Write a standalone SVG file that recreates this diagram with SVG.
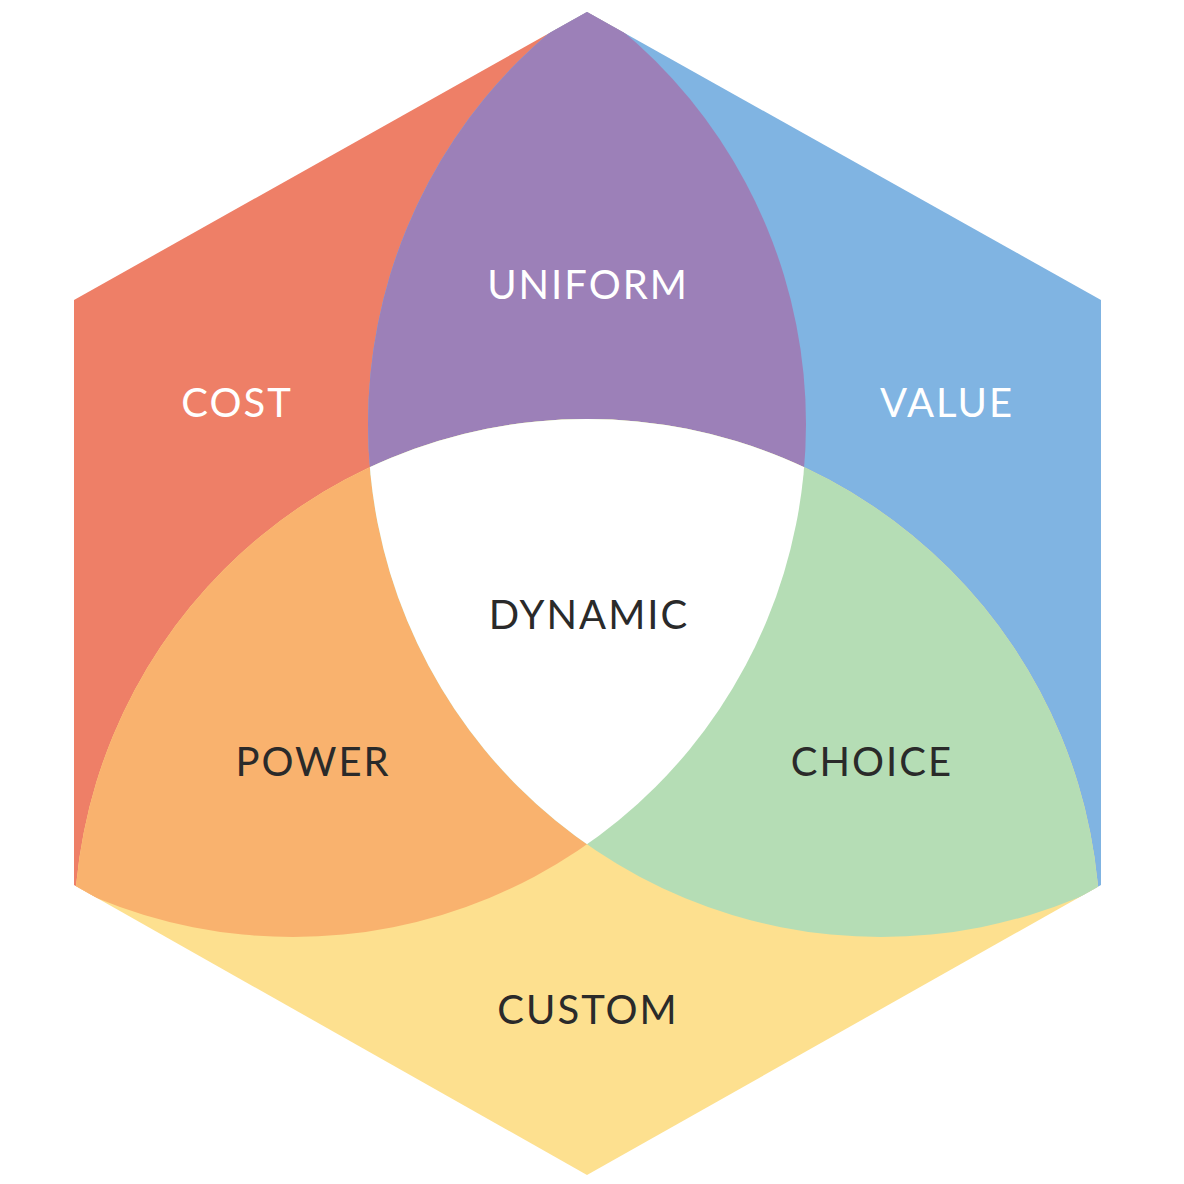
<svg xmlns="http://www.w3.org/2000/svg" width="1184" height="1184" viewBox="0 0 1184 1184">
<style>
text{font-family:Lato,"Open Sans","Liberation Sans",sans-serif;font-size:40px;text-anchor:middle;letter-spacing:2px}
.w{fill:#ffffff}.d{fill:#2a2a2a}
</style>
<defs>
<clipPath id="hex"><polygon points="587,12 1101,300 1101,885 587,1175 74,885 74,300"/></clipPath>
<clipPath id="cL"><circle cx="293" cy="424" r="513"/></clipPath>
<clipPath id="cR"><circle cx="881" cy="424" r="513"/></clipPath>
<clipPath id="cB"><circle cx="587" cy="932" r="513"/></clipPath>
</defs>
<rect width="1184" height="1184" fill="#ffffff"/>
<g clip-path="url(#hex)">
<g id="cost"><circle cx="293" cy="424" r="513" fill="#EE7F67"/></g>
<g id="value"><circle cx="881" cy="424" r="513" fill="#80B4E2"/></g>
<g id="custom"><circle cx="587" cy="932" r="513" fill="#FDE08F"/></g>
<g id="uniform" clip-path="url(#cL)"><circle cx="881" cy="424" r="513" fill="#9C80B8"/></g>
<g id="power" clip-path="url(#cL)"><circle cx="587" cy="932" r="513" fill="#F9B26E"/></g>
<g id="choice" clip-path="url(#cR)"><circle cx="587" cy="932" r="513" fill="#B5DDB5"/></g>
<g id="dynamic" clip-path="url(#cL)"><g clip-path="url(#cR)"><circle cx="587" cy="932" r="513" fill="#ffffff"/></g></g>
</g>
<g id="labels">
<text class="w" x="588" y="299">UNIFORM</text>
<text class="w" x="237" y="417">COST</text>
<text class="w" x="947" y="417">VALUE</text>
<text class="d" x="589" y="629">DYNAMIC</text>
<text class="d" x="313" y="776">POWER</text>
<text class="d" x="872" y="776">CHOICE</text>
<text class="d" x="588" y="1024">CUSTOM</text>
</g>
</svg>
